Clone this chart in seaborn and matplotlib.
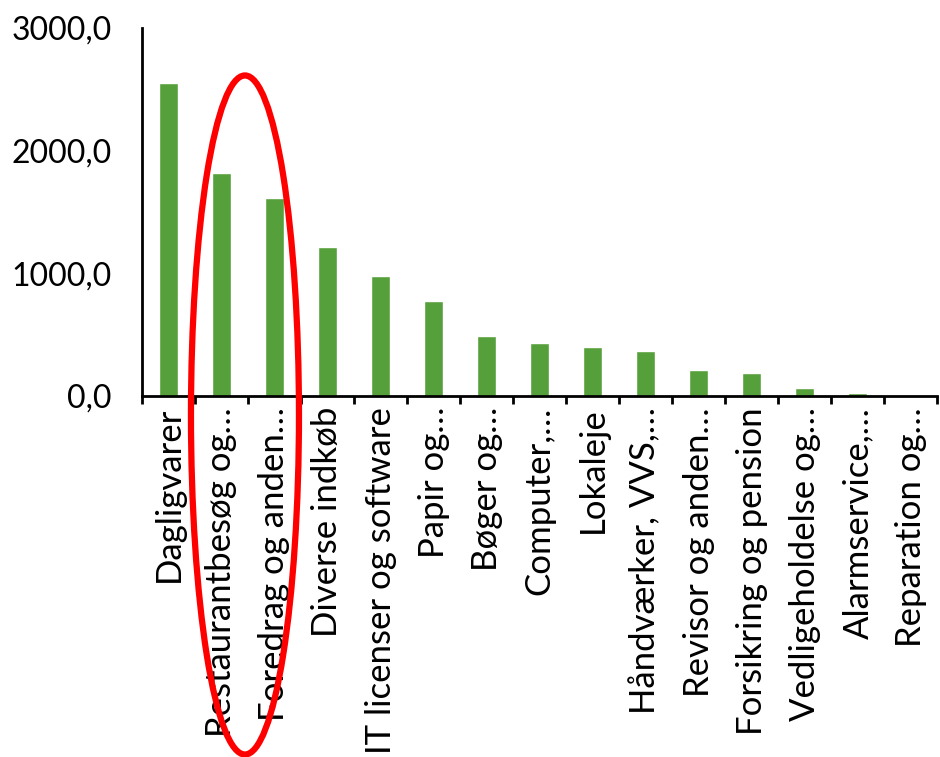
import numpy as np
import pandas as pd
import matplotlib
matplotlib.use("Agg")
import matplotlib.pyplot as plt
from matplotlib.patches import Ellipse
from matplotlib.ticker import FuncFormatter
import seaborn as sns

# data
categories = ["Dagligvarer", "Restaurantbesøg og…", "Foredrag og anden…", "Diverse indkøb",
              "IT licenser og software", "Papir og…", "Bøger og…", "Computer,…", "Lokaleje",
              "Håndværker, VVS,…", "Revisor og anden…", "Forsikring og pension",
              "Vedligeholdelse og…", "Alarmservice,…", "Reparation og…"]
values = [2553, 1815, 1611, 1217, 980, 777, 489, 429, 402, 369, 212, 185, 68, 24, 10]
yticks = [0, 1000, 2000, 3000]

df = pd.DataFrame({"Kategori": categories, "Beløb": values})

sns.set_style("white")
plt.rcParams["font.family"] = ["Lato", "DejaVu Sans"]

fig = plt.figure(figsize=(9.4, 7.57), dpi=100)
ax = fig.add_axes([0.151, 0.4769, 0.846, 0.4861])

sns.barplot(data=df, x="Kategori", y="Beløb", color="#56A03B", saturation=1,
            width=0.35, ax=ax)

ax.set_ylim(0, 3000)
ax.set_xlim(-0.5, len(categories) - 0.5)
ax.set_yticks(yticks)
ax.yaxis.set_major_formatter(FuncFormatter(lambda v, p: f"{v:.1f}".replace(".", ",")))
ax.set_xlabel("")
ax.set_ylabel("")

# category labels, rotated, ticks between categories
ax.set_xticks(range(len(categories)))
ax.set_xticklabels(categories, rotation=90, ha="center", va="top")
ax.set_xticks(np.arange(-0.5, len(categories)), minor=True)
ax.tick_params(axis="x", which="major", bottom=True, length=0, pad=8, labelsize=25,
               labelcolor="black")
ax.tick_params(axis="x", which="minor", bottom=True, length=6, width=2,
               direction="out", color="black")
ax.tick_params(axis="y", length=0, pad=22, labelsize=23, labelcolor="black")

sns.despine(ax=ax)
for s in ["left", "bottom"]:
    ax.spines[s].set_linewidth(2)
    ax.spines[s].set_color("black")

# red highlight ring around the second and third category
ring = Ellipse((0.2606, 0.4518), 0.1149, 0.897, transform=fig.transFigure,
               fill=False, edgecolor="red", linewidth=4.5, clip_on=False)
fig.add_artist(ring)

fig.savefig("out.png", dpi=100)
